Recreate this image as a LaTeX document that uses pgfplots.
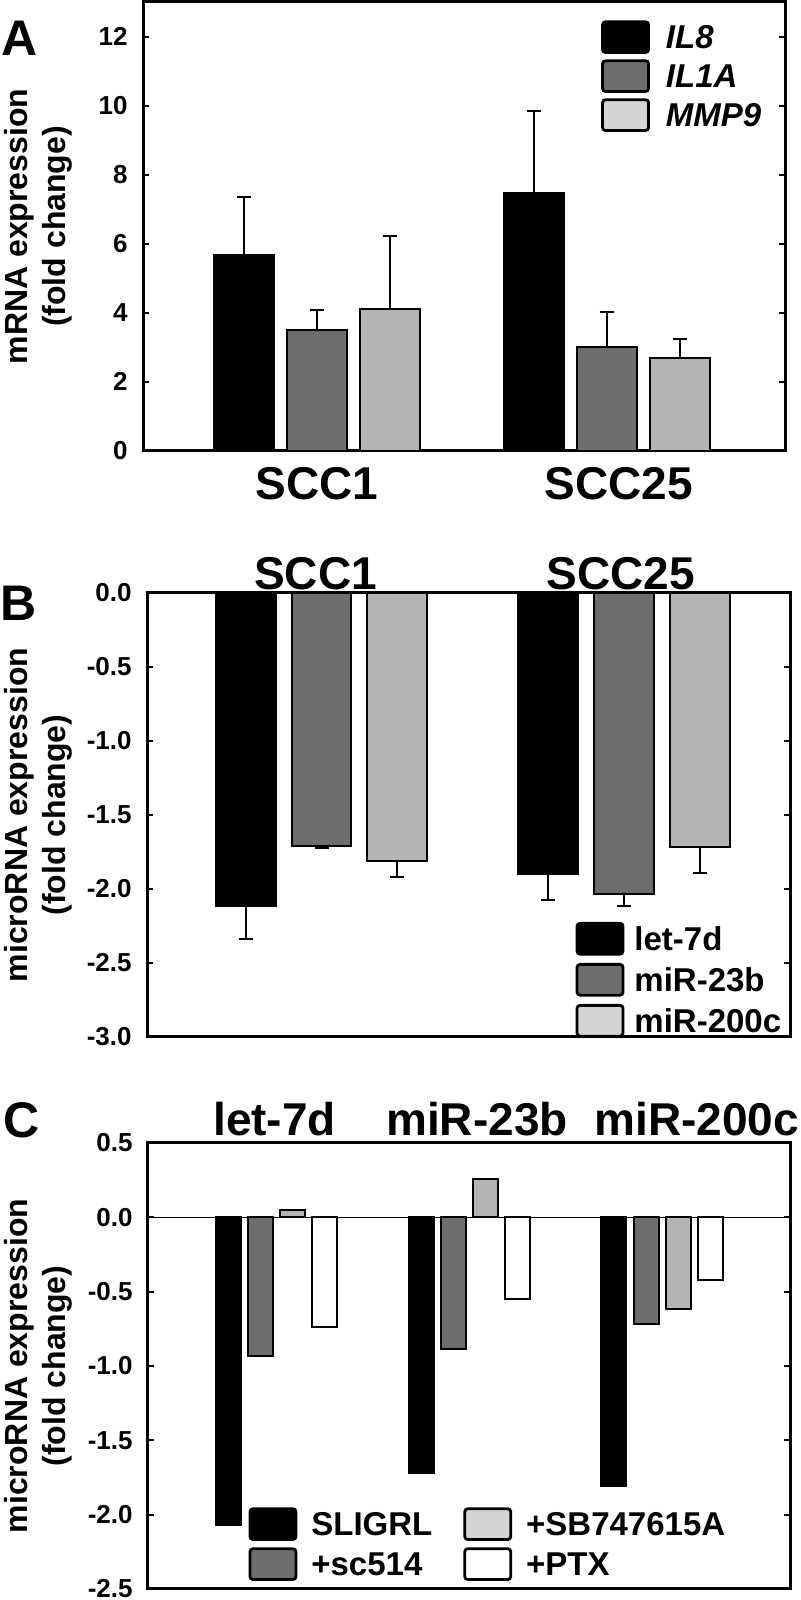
\documentclass[border=0pt]{standalone}
\usepackage{fontspec}
\setmainfont{Liberation Sans}
\usepackage{pgfplots}
\pgfplotsset{compat=1.18}

\definecolor{dkgray}{HTML}{6E6E6E}
\definecolor{ltgray}{HTML}{B4B4B4}
\definecolor{ltleg}{HTML}{D4D4D4}

\pgfplotsset{
  panel/.style={
    scale only axis,
    axis line style={line width=1.5pt},
    tick align=inside,
    ytick pos=both,
    major tick length=3pt,
    ytick style={line width=1pt, black},
    xtick style={draw=none},
    /pgf/number format/assume math mode=true,
    tick label style={font=\fontsize{13}{15}\selectfont\bfseries},
    yticklabel style={anchor=east, inner sep=0pt, xshift=-7.5pt},
    ylabel style={font=\fontsize{16}{19}\selectfont\bfseries, align=center},
    legend cell align=left,
    legend style={draw=none, fill=none, inner sep=0pt, anchor=north west,
      font=\fontsize{16.5}{18}\selectfont\bfseries, nodes={inner sep=0pt}},
  },
  legbox/.style={legend image code/.code={
    \draw[fill=#1, draw=black, line width=1.4pt, rounded corners=1.5pt]
      (0pt,-6.9pt) rectangle (23pt,8.5pt);}},
  bars/.style={ybar, bar shift=0pt, bar width=#1, line width=1pt},
  errup/.style={error bars/.cd, y dir=plus, y explicit,
    error bar style={line width=1pt, black},
    error mark options={rotate=90, mark size=3.5pt, line width=1pt, black}},
  errdown/.style={error bars/.cd, y dir=minus, y explicit,
    error bar style={line width=1pt, black},
    error mark options={rotate=90, mark size=3.5pt, line width=1pt, black}},
}

\begin{document}
\begin{tikzpicture}

% ---- A: mRNA ----
\begin{axis}[panel, at={(71.5pt,574.5pt)}, anchor=south west,
  width=321pt, height=224.5pt,
  xmin=0.4, xmax=2.614, ymin=0, ymax=13, ytick={0,2,4,6,8,10,12},
  xtick={1,2.04}, xticklabels={SCC1,SCC25},
  xticklabel style={font=\fontsize{23}{25}\selectfont\bfseries, anchor=north, inner sep=0pt, yshift=-8pt},
  ylabel={mRNA expression\\(fold change)},
  ylabel style={at={(axis description cs:-0.1636,0.5)}, anchor=center},
  legend style={at={(0.713,0.960)}, row sep=2.7pt,
    font=\fontsize{16.5}{18}\selectfont\bfseries\itshape,
    /tikz/every odd column/.append style={column sep=8pt}},
]
\addplot[bars=0.207, fill=black, draw=black, legbox=black, errup]
  coordinates {(0.748,5.66) +- (0,1.70) (1.748,7.47) +- (0,2.38)};
\addplot[bars=0.207, fill=dkgray, draw=black, legbox=dkgray, errup]
  coordinates {(1,3.51) +- (0,0.58) (2,3.01) +- (0,1.02)};
\addplot[bars=0.207, fill=ltgray, draw=black, legbox=ltleg, errup]
  coordinates {(1.252,4.11) +- (0,2.10) (2.252,2.69) +- (0,0.55)};
\legend{IL8,IL1A,MMP9}
\end{axis}

% ---- B: microRNA in cell lines ----
\begin{axis}[panel, at={(73.5pt,281.5pt)}, anchor=south west,
  width=321.5pt, height=222pt,
  xmin=0.423, xmax=2.549, ymin=-3, ymax=0,
  ytick={-3,-2.5,-2,-1.5,-1,-0.5,0},
  yticklabel style={/pgf/number format/.cd, fixed, zerofill, precision=1},
  xticklabel pos=right,
  xtick={0.98,1.99}, xticklabels={SCC1,SCC25},
  xticklabel style={font=\fontsize{23}{25}\selectfont\bfseries, anchor=south, inner sep=0pt, yshift=1.5pt},
  ylabel={microRNA expression\\(fold change)},
  ylabel style={at={(axis description cs:-0.1695,0.5)}, anchor=center},
  legend style={at={(0.666,0.260)}, row sep=3.7pt,
    /tikz/every odd column/.append style={column sep=5pt}},
]
\addplot[bars=0.198, fill=black, draw=black, legbox=black, errdown]
  coordinates {(0.749,-2.115) +- (0,0.225) (1.749,-1.90) +- (0,0.177)};
\addplot[bars=0.198, fill=dkgray, draw=black, legbox=dkgray, errdown]
  coordinates {(1,-1.708) +- (0,0.018) (2,-2.036) +- (0,0.079)};
\addplot[bars=0.198, fill=ltgray, draw=black, legbox=ltleg, errdown]
  coordinates {(1.251,-1.814) +- (0,0.104) (2.251,-1.719) +- (0,0.17)};
\legend{let-7d,miR-23b,miR-200c}
\end{axis}

% ---- C: treatments ----
\begin{axis}[panel, at={(74pt,5.5pt)}, anchor=south west,
  width=321pt, height=223pt,
  xmin=0.333, xmax=3.664, ymin=-2.5, ymax=0.5,
  ytick={-2.5,-2,-1.5,-1,-0.5,0,0.5},
  yticklabel style={/pgf/number format/.cd, fixed, zerofill, precision=1},
  xticklabel pos=right,
  xtick={0.99,2.04,3.18}, xticklabels={let-7d,miR-23b,miR-200c},
  xticklabel style={font=\fontsize{23}{25}\selectfont\bfseries, anchor=south, inner sep=0pt, yshift=3.5pt},
  ylabel={microRNA expression\\(fold change)},
  ylabel style={at={(axis description cs:-0.171,0.5)}, anchor=center},
  legend columns=2, transpose legend,
  legend style={at={(0.156,0.184)}, row sep=3.2pt,
    /tikz/every odd column/.append style={column sep=7pt},
    /tikz/every even column/.append style={column sep=15.5pt}},
]
\addplot[forget plot, line width=0.7pt, black] coordinates {(0.333,0) (3.664,0)};
\addplot[bars=0.13, fill=black, draw=black, legbox=black]
  coordinates {(0.75,-2.07) (1.75,-1.72) (2.75,-1.806)};
\addplot[bars=0.13, fill=dkgray, draw=black, legbox=dkgray]
  coordinates {(0.917,-0.93) (1.917,-0.885) (2.917,-0.716)};
\addplot[bars=0.13, fill=ltgray, draw=black, legbox=ltleg]
  coordinates {(1.083,0.05) (2.083,0.26) (3.083,-0.619)};
\addplot[bars=0.13, fill=white, draw=black, legbox=white]
  coordinates {(1.25,-0.74) (2.25,-0.547) (3.25,-0.423)};
\legend{SLIGRL,+sc514,+SB747615A,+PTX}
\end{axis}

\node[font=\fontsize{25}{25}\selectfont\bfseries] at (10pt,781pt) {A};
\node[font=\fontsize{25}{25}\selectfont\bfseries] at (9.5pt,498.5pt) {B};
\node[font=\fontsize{25}{25}\selectfont\bfseries] at (11pt,240pt) {C};

\pgfresetboundingbox
\path[use as bounding box] (0,0) rectangle (400pt,800pt);
\end{tikzpicture}
\end{document}
